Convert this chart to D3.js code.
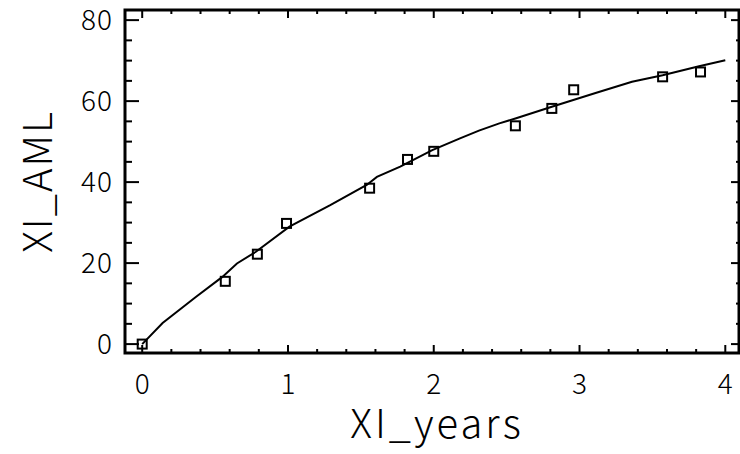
<!DOCTYPE html>
<html>
<head>
<meta charset="utf-8">
<script src="https://cdn.jsdelivr.net/npm/d3@7"></script>
<style>
  body { margin: 0; background: #fff; }
  text { font-family: "Noto Sans CJK KR", "Noto Sans", sans-serif; font-weight: 300; fill: #000; }
</style>
</head>
<body>
<div id="chart"></div>
<script>
var width = 740
var height = 454

// measured points (squares)
var obsYears = [0, 0.57, 0.79, 0.99, 1.56, 1.82, 2.0, 2.56, 2.81, 2.96, 3.57, 3.83]
var obsAML = [0, 15.5, 22.2, 29.8, 38.5, 45.6, 47.6, 53.9, 58.2, 62.8, 66.0, 67.2]

// fitted curve
var fitYears = [0, 0.14, 0.37, 0.55, 0.65, 0.78, 1.01, 1.29, 1.54, 1.61, 1.77, 1.99, 2.18, 2.31, 2.45, 2.56, 2.81, 3.11, 3.36, 3.57, 3.82, 4.0]
var fitAML = [0, 5.2, 11.7, 16.6, 19.9, 22.8, 29.0, 34.3, 39.3, 41.3, 43.8, 47.9, 50.8, 52.7, 54.5, 55.7, 58.6, 62.0, 64.8, 66.4, 68.6, 70.1]

var xTicks = [0, 1, 2, 3, 4]
var yTicks = [0, 20, 40, 60, 80]

var margin = {top: 10, right: 1, bottom: 101, left: 125}
var x0 = margin.left, x1 = width - margin.right
var y0 = height - margin.bottom, y1 = margin.top

var x = d3.scaleLinear().domain([-0.118, 4.094]).range([x0, x1])
var y = d3.scaleLinear().domain([-2.2, 82.5]).range([y0, y1])

var svg = d3.select("#chart")
    .append("svg")
    .attr("width", width)
    .attr("height", height)

var xMinor = d3.range(0, 4.01, 0.2).map(function(d) { return +d.toFixed(1) })
var yMinor = d3.range(0, 81, 5)

function isMajor(v, list) {
    return list.some(function(t) { return Math.abs(t - v) < 1e-6 })
}

// ticks (all pointing inward)
var ticks = svg.append("g").attr("stroke", "#000")

ticks.selectAll(".xb").data(xMinor).enter().append("line")
    .attr("x1", d => x(d)).attr("x2", d => x(d))
    .attr("y1", y0).attr("y2", d => y0 - (isMajor(d, xTicks) ? 8 : 4))
    .attr("stroke-width", 2)
ticks.selectAll(".xt").data(xMinor).enter().append("line")
    .attr("x1", d => x(d)).attr("x2", d => x(d))
    .attr("y1", y1).attr("y2", d => y1 + (isMajor(d, xTicks) ? 8 : 4))
    .attr("stroke-width", 2)
ticks.selectAll(".yl").data(yMinor).enter().append("line")
    .attr("y1", d => y(d)).attr("y2", d => y(d))
    .attr("x1", x0).attr("x2", d => x0 + (isMajor(d, yTicks) ? 14 : 7))
    .attr("stroke-width", 2)
ticks.selectAll(".yr").data(yMinor).enter().append("line")
    .attr("y1", d => y(d)).attr("y2", d => y(d))
    .attr("x1", x1).attr("x2", d => x1 - (isMajor(d, yTicks) ? 8 : 3))
    .attr("stroke-width", 2)

// frame
svg.append("rect")
    .attr("x", x0).attr("y", y1)
    .attr("width", x1 - x0).attr("height", y0 - y1)
    .attr("fill", "none").attr("stroke", "#000").attr("stroke-width", 3)

// tick labels
svg.selectAll(".xl").data(xTicks).enter().append("text")
    .attr("x", d => x(d)).attr("y", y0 + 41)
    .attr("text-anchor", "middle")
    .style("font-size", "28px")
    .text(d => d)
svg.selectAll(".ylab").data(yTicks).enter().append("text")
    .attr("x", x0 - 12).attr("y", d => y(d) + 10)
    .attr("text-anchor", "end")
    .style("font-size", "28px")
    .style("letter-spacing", "1px")
    .text(d => d)

// axis titles
svg.append("text")
    .attr("x", (x0 + x1) / 2 + 5).attr("y", 438)
    .attr("text-anchor", "middle")
    .style("font-size", "40px")
    .style("letter-spacing", "3px")
    .text("XI_years")
svg.append("text")
    .attr("transform", "translate(52," + ((y0 + y1) / 2) + ") rotate(-90)")
    .attr("text-anchor", "middle")
    .style("font-size", "40px")
    .style("letter-spacing", "2px")
    .text("XI_AML")

// fitted line
var fit = fitYears.map(function(d, i) { return [d, fitAML[i]] })
var line = d3.line()
    .x(function(d) { return x(d[0]) })
    .y(function(d) { return y(d[1]) })
svg.append("path")
    .datum(fit)
    .attr("d", line)
    .attr("fill", "none")
    .attr("stroke", "#000")
    .attr("stroke-width", 2)

// observations
var obs = obsYears.map(function(d, i) { return [d, obsAML[i]] })
svg.selectAll(".pt").data(obs).enter().append("rect")
    .attr("x", d => x(d[0]) - 4.5)
    .attr("y", d => y(d[1]) - 4.5)
    .attr("width", 9).attr("height", 9)
    .attr("fill", "none")
    .attr("stroke", "#000")
    .attr("stroke-width", 2)
</script>
</body>
</html>
